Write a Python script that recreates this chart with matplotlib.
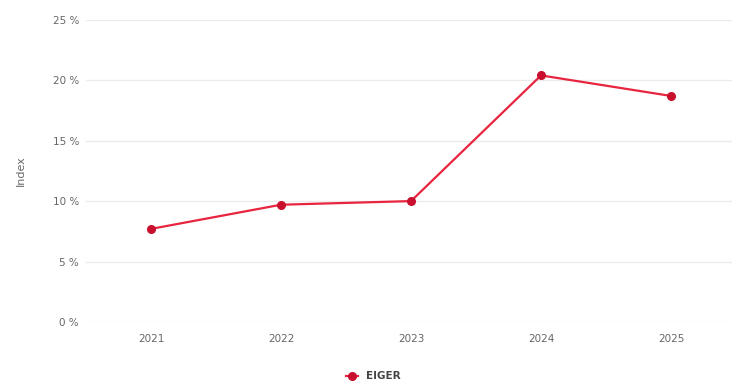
import matplotlib
matplotlib.use("Agg")
import matplotlib.pyplot as plt

years = ["2021", "2022", "2023", "2024", "2025"]
eiger = [7.7, 9.7, 10.0, 20.4, 18.7]
y_ticks = [0, 5, 10, 15, 20, 25]

fig = plt.figure(figsize=(7.32, 3.81), dpi=100)
ax = fig.add_axes([0.1175, 0.155, 0.888, 0.793])

x = range(len(years))
ax.plot(x, eiger, color="#e8243f", lw=1.6, marker="o", ms=5.5,
        mfc="#c8102e", mec="#c8102e", label="EIGER", zorder=3)

ax.set_xlim(-0.5, 4.5)
ax.set_ylim(0, 25)
ax.set_xticks(list(x))
ax.set_xticklabels(years)
ax.set_yticks(y_ticks)
ax.set_yticklabels([f"{t} %" for t in y_ticks])
ax.grid(axis="y", color="#ebebeb", lw=1)
ax.set_axisbelow(True)
for s in ax.spines.values():
    s.set_visible(False)
ax.tick_params(length=0, colors="#666666", labelsize=7.5)
ax.tick_params(axis="x", pad=9)
ax.tick_params(axis="y", pad=5)
ax.set_ylabel("Index", color="#666666", fontsize=8, labelpad=19)

leg = fig.legend(loc="lower center", bbox_to_anchor=(0.51, -0.025), frameon=False,
                 handlelength=1.2, prop={"weight": "bold", "size": 7.5})
for t in leg.get_texts():
    t.set_color("#444444")

fig.savefig("out.png", dpi=100)
